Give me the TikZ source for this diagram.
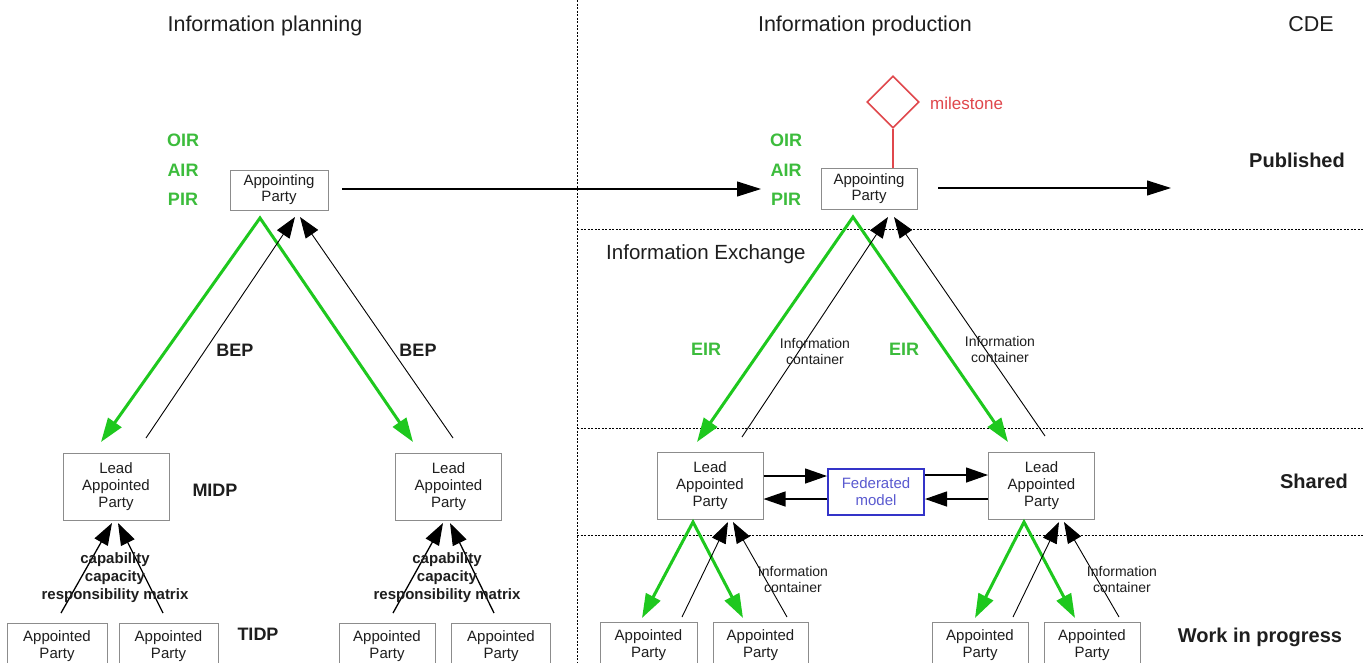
\documentclass[tikz,border=0pt]{standalone}
\usepackage{fontspec}
\setmainfont{Liberation Sans}
\usetikzlibrary{arrows.meta,shapes.geometric}
\definecolor{gline}{HTML}{1EC81E}
\definecolor{gtext}{HTML}{3CBC3C}
\definecolor{boxgray}{HTML}{8C8C8C}
\definecolor{mred}{HTML}{E0474C}
\definecolor{fblue}{HTML}{3434C8}
\definecolor{ftext}{HTML}{5A5AD0}
\definecolor{txt}{HTML}{1E1E1E}
\begin{document}
\begin{tikzpicture}[x=1pt,y=-1pt,
  pbox/.style={draw=boxgray,line width=1pt,fill=white,inner sep=0pt,align=center,text=txt},
  apbox/.style={pbox,minimum width=98pt,minimum height=40pt,font=\fontsize{15}{16}\selectfont},
  leadbox/.style={pbox,minimum width=106pt,minimum height=67pt,font=\fontsize{15}{17}\selectfont},
  smallbox/.style={pbox,minimum width=97pt,minimum height=46pt,font=\fontsize{15}{17}\selectfont},
  fedbox/.style={draw=fblue,line width=2pt,fill=white,inner sep=0pt,align=center,text=ftext,minimum width=96pt,minimum height=46pt,font=\fontsize{15}{17}\selectfont},
  title/.style={inner sep=0pt,text=txt,font=\fontsize{21.5}{24}\selectfont},
  zone/.style={inner sep=0pt,text=txt,font=\fontsize{20}{24}\selectfont\bfseries},
  req/.style={inner sep=0pt,text=gtext,font=\fontsize{18}{22}\selectfont\bfseries},
  lbl/.style={inner sep=0pt,text=txt,font=\fontsize{18}{22}\selectfont\bfseries},
  captext/.style={inner sep=0pt,align=center,text=txt,font=\fontsize{15}{18}\selectfont\bfseries},
  infoc/.style={inner sep=0pt,align=center,text=txt,font=\fontsize{14}{16}\selectfont},
  garrow/.style={draw=gline,line width=3pt,line join=miter,{Triangle[length=24pt,width=16pt]}-{Triangle[length=24pt,width=16pt]}},
  barrow/.style={draw=black,line width=0.9pt,-{Triangle[length=21pt,width=15pt]}},
  harrow/.style={draw=black,line width=1.1pt,-{Triangle[length=24pt,width=15pt]}},
  sarrow/.style={draw=black,line width=1.3pt,-{Triangle[length=22pt,width=15pt]}},
  dotline/.style={draw=black,line width=0.9pt,dash pattern=on 2pt off 1.5pt}]
\useasboundingbox (0,0) rectangle (1363,662);
\fill[white] (0,0) rectangle (1363,662);

% dotted separators
\coordinate (vtop) at (577,0);
\coordinate (vbot) at (577,662);
\draw[dotline] (vtop) -- (vbot);
\coordinate (h1a) at (577,229); \coordinate (h1b) at (1363,229);
\coordinate (h2a) at (577,428); \coordinate (h2b) at (1363,428);
\coordinate (h3a) at (577,535); \coordinate (h3b) at (1363,535);
\draw[dotline] (h1a) -- (h1b);
\draw[dotline] (h2a) -- (h2b);
\draw[dotline] (h3a) -- (h3b);

% titles
\node[title] (tplan) at (265,26) {Information planning};
\node[title] (tprod) at (865,26) {Information production};
\node[title] (tcde) at (1311,24) {CDE};
\node[title,font=\fontsize{20.5}{24}\selectfont,anchor=west] (texch) at (606,254) {Information Exchange};
\node[zone] (zpub) at (1297,160) {Published};
\node[zone] (zsha) at (1314,481) {Shared};
\node[zone] (zwip) at (1260,637) {Work in progress};

% ===== Left: Information planning =====
\node[apbox] (ap1) at (279,190) {Appointing\\Party};
\node[req] (oir1) at (183,140) {OIR};
\node[req] (air1) at (183,170) {AIR};
\node[req] (pir1) at (183,199) {PIR};

\node[leadbox] (lead1) at (116,486.5) {Lead\\Appointed\\Party};
\node[leadbox] (lead2) at (448.5,486.5) {Lead\\Appointed\\Party};
\node[lbl] (midp) at (215,490) {MIDP};
\node[lbl] (tidp) at (258,634) {TIDP};

\node[smallbox,minimum width=100pt] (a1) at (57,646) {Appointed\\Party};
\node[smallbox,minimum width=99pt] (a2) at (168.5,646) {Appointed\\Party};
\node[smallbox,minimum width=96pt] (a3) at (387,646) {Appointed\\Party};
\node[smallbox,minimum width=99pt] (a4) at (501,646) {Appointed\\Party};

\coordinate (g1apex) at (260,218);
\coordinate (g1l) at (101,442);
\coordinate (g1r) at (413,442);
\draw[garrow] (g1l) -- (g1apex) -- (g1r);

\coordinate (b1s) at (146,438);
\coordinate (b1t) at (295,217);
\coordinate (b2s) at (453,438);
\coordinate (b2t) at (300,217);
\draw[barrow] (b1s) -- (b1t);
\draw[barrow] (b2s) -- (b2t);
\node[lbl] (bep1) at (235,350) {BEP};
\node[lbl] (bep2) at (418,350) {BEP};

\coordinate (s1s) at (61,613);  \coordinate (s1t) at (112,523);
\coordinate (s2s) at (163,613); \coordinate (s2t) at (118,523);
\coordinate (s3s) at (393,613); \coordinate (s3t) at (443,523);
\coordinate (s4s) at (494,613); \coordinate (s4t) at (450,523);
\draw[sarrow] (s1s) -- (s1t);
\draw[sarrow] (s2s) -- (s2t);
\draw[sarrow] (s3s) -- (s3t);
\draw[sarrow] (s4s) -- (s4t);
\node[captext] (cap1) at (115,578) {capability\\capacity\\responsibility matrix};
\node[captext] (cap2) at (447,578) {capability\\capacity\\responsibility matrix};

\coordinate (hstart) at (342,189);
\coordinate (hend) at (761,189);
\draw[harrow] (hstart) -- (hend);

% ===== Right: Information production =====
\node[apbox,minimum width=96pt,minimum height=41pt] (ap2) at (869,189) {Appointing\\Party};
\node[req] (oir2) at (786,140) {OIR};
\node[req] (air2) at (786,170) {AIR};
\node[req] (pir2) at (786,199) {PIR};

\node[diamond,aspect=1,draw=mred,line width=1.6pt,minimum size=52pt,inner sep=0pt] (ms) at (893,102) {};
\draw[draw=mred,line width=2.2pt] (ms.south) -- (ms.south |- ap2.north);
\node[inner sep=0pt,anchor=west,text=mred,font=\fontsize{17}{20}\selectfont] (mstxt) at (930,103) {milestone};

\coordinate (h2start) at (938,188);
\coordinate (h2end) at (1171,188);
\draw[harrow] (h2start) -- (h2end);

\node[leadbox] (lead3) at (710,486) {Lead\\Appointed\\Party};
\node[leadbox] (lead4) at (1041.5,486) {Lead\\Appointed\\Party};
\node[fedbox] (fed) at (876,491.5) {Federated\\model};

\coordinate (g2apex) at (853,217);
\coordinate (g2l) at (697,442);
\coordinate (g2r) at (1008,442);
\draw[garrow] (g2l) -- (g2apex) -- (g2r);
\coordinate (c1s) at (742,437); \coordinate (c1t) at (888,217);
\coordinate (c2s) at (1045,436); \coordinate (c2t) at (894,217);
\draw[barrow] (c1s) -- (c1t);
\draw[barrow] (c2s) -- (c2t);
\node[req] (eir1) at (706,349) {EIR};
\node[req] (eir2) at (904,349) {EIR};
\node[infoc] (ic1) at (815,351) {Information\\container};
\node[infoc] (ic2) at (1000,349) {Information\\container};

% federated model arrows
\draw[sarrow] (lead3.east |- 0,476) -- (fed.west |- 0,476);
\draw[sarrow] (fed.west |- 0,499) -- (lead3.east |- 0,499);
\draw[sarrow] (fed.east |- 0,475) -- (lead4.west |- 0,475);
\draw[sarrow] (lead4.west |- 0,499) -- (fed.east |- 0,499);

\node[smallbox] (b1) at (648.5,645) {Appointed\\Party};
\node[smallbox,minimum width=95pt] (b2) at (760.5,645) {Appointed\\Party};
\node[smallbox,minimum width=96pt] (b3) at (980,645) {Appointed\\Party};
\node[smallbox,minimum width=96pt] (b4) at (1092,645) {Appointed\\Party};

\coordinate (g3apex) at (693,522);
\coordinate (g3l) at (642,618);
\coordinate (g3r) at (743,618);
\draw[garrow] (g3l) -- (g3apex) -- (g3r);
\coordinate (d1s) at (682,617); \coordinate (d1t) at (728,522);
\coordinate (d2s) at (787,617); \coordinate (d2t) at (733,522);
\draw[barrow] (d1s) -- (d1t);
\draw[barrow] (d2s) -- (d2t);
\node[infoc] (ic3) at (793,579) {Information\\container};

\coordinate (g4apex) at (1024,522);
\coordinate (g4l) at (975,618);
\coordinate (g4r) at (1075,618);
\draw[garrow] (g4l) -- (g4apex) -- (g4r);
\coordinate (e1s) at (1013,617); \coordinate (e1t) at (1059,522);
\coordinate (e2s) at (1119,617); \coordinate (e2t) at (1064,522);
\draw[barrow] (e1s) -- (e1t);
\draw[barrow] (e2s) -- (e2t);
\node[infoc] (ic4) at (1122,579) {Information\\container};
\end{tikzpicture}
\end{document}
